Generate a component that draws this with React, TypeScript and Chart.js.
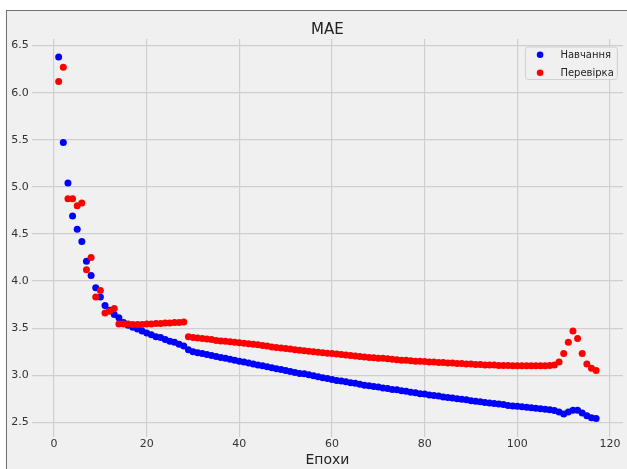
import React, { useEffect, useRef } from "react";
import { Chart, registerables } from "chart.js";

Chart.register(...registerables);

const chartTitle = "MAE";
const xAxisTitle = "Епохи";
const trainLabel = "Навчання";
const valLabel = "Перевірка";
const xTickValues = [0, 20, 40, 60, 80, 100, 120];
const yTickValues = [2.5, 3.0, 3.5, 4.0, 4.5, 5.0, 5.5, 6.0, 6.5];

const trainMae = [
  6.38, 5.47, 5.04, 4.69, 4.55, 4.42, 4.21, 4.06, 3.93, 3.83,
  3.74, 3.69, 3.645, 3.61, 3.56, 3.53, 3.51, 3.49, 3.47, 3.45,
  3.43, 3.41, 3.40, 3.38, 3.36, 3.35, 3.33, 3.31, 3.27, 3.25,
  3.24, 3.23, 3.22, 3.21, 3.20, 3.19, 3.18, 3.17, 3.16, 3.15,
  3.14, 3.13, 3.12, 3.11, 3.10, 3.09, 3.08, 3.07, 3.06, 3.05,
  3.04, 3.03, 3.02, 3.015, 3.005, 2.995, 2.985, 2.975, 2.965, 2.955,
  2.945, 2.94, 2.93, 2.92, 2.915, 2.905, 2.895, 2.89, 2.88, 2.875,
  2.865, 2.86, 2.85, 2.845, 2.835, 2.83, 2.82, 2.815, 2.805, 2.80,
  2.79, 2.785, 2.78, 2.77, 2.765, 2.76, 2.75, 2.745, 2.74, 2.73,
  2.725, 2.72, 2.71, 2.705, 2.70, 2.695, 2.69, 2.68, 2.675, 2.67,
  2.665, 2.66, 2.655, 2.65, 2.645, 2.64, 2.635, 2.625, 2.61, 2.59,
  2.61, 2.63, 2.63, 2.60, 2.57, 2.55, 2.54,
];

const valMae = [
  6.12, 6.27, 4.875, 4.875, 4.80, 4.83, 4.12, 4.25, 3.83, 3.90,
  3.66, 3.68, 3.71, 3.545, 3.545, 3.545, 3.54, 3.54, 3.54, 3.545,
  3.545, 3.55, 3.55, 3.555, 3.555, 3.56, 3.56, 3.565, 3.41, 3.40,
  3.395, 3.39, 3.385, 3.38, 3.37, 3.365, 3.36, 3.355, 3.35, 3.345,
  3.34, 3.335, 3.33, 3.325, 3.315, 3.31, 3.30, 3.295, 3.29, 3.285,
  3.28, 3.27, 3.265, 3.26, 3.255, 3.25, 3.245, 3.24, 3.235, 3.23,
  3.225, 3.22, 3.215, 3.21, 3.205, 3.20, 3.195, 3.19, 3.185, 3.18,
  3.18, 3.175, 3.17, 3.165, 3.16, 3.16, 3.155, 3.15, 3.15, 3.145,
  3.14, 3.14, 3.135, 3.135, 3.13, 3.13, 3.125, 3.125, 3.12, 3.12,
  3.115, 3.115, 3.11, 3.11, 3.11, 3.105, 3.105, 3.105, 3.10, 3.10,
  3.10, 3.10, 3.10, 3.10, 3.10, 3.10, 3.105, 3.11, 3.14, 3.23,
  3.35, 3.47, 3.39, 3.23, 3.12, 3.075, 3.05,
];

const FONT = "'DejaVu Sans', sans-serif";
const TEXT = "#333333";
const GRID = "#cfcfcf";

const boxLegend = {
  id: "boxLegend",
  afterDatasetsDraw(chart: any) {
    const { ctx, chartArea } = chart;
    const w = 92;
    const h = 32.5;
    const x0 = chartArea.right - 5.6 - w;
    const y0 = chartArea.top + 8;
    ctx.save();
    ctx.beginPath();
    if (ctx.roundRect) ctx.roundRect(x0, y0, w, h, 3);
    else ctx.rect(x0, y0, w, h);
    ctx.fillStyle = "rgba(240,240,240,0.85)";
    ctx.fill();
    ctx.lineWidth = 1;
    ctx.strokeStyle = "#d0d0d0";
    ctx.stroke();
    ctx.font = `10px ${FONT}`;
    ctx.textBaseline = "middle";
    ctx.textAlign = "left";
    chart.data.datasets.forEach((ds: any, i: number) => {
      const cy = y0 + 7.7 + i * 18;
      ctx.beginPath();
      ctx.arc(x0 + 14.7, cy, 3.3, 0, Math.PI * 2);
      ctx.fillStyle = ds.backgroundColor;
      ctx.fill();
      ctx.fillStyle = "#222222";
      ctx.fillText(ds.label, x0 + 35, cy + 0.5);
    });
    ctx.restore();
  },
};

export default function App() {
  const canvasRef = useRef<HTMLCanvasElement | null>(null);

  useEffect(() => {
    if (!canvasRef.current) return;
    const epochs = trainMae.map((_, i) => i + 1);
    const chart = new Chart(canvasRef.current, {
      type: "scatter",
      data: {
        datasets: [
          {
            label: trainLabel,
            data: epochs.map((e, i) => ({ x: e, y: trainMae[i] })),
            backgroundColor: "#0000ff",
            borderWidth: 0,
            pointRadius: 3.5,
            order: 1,
          },
          {
            label: valLabel,
            data: epochs.map((e, i) => ({ x: e, y: valMae[i] })),
            backgroundColor: "#ff0000",
            borderWidth: 0,
            pointRadius: 3.5,
            order: 0,
          },
        ],
      },
      options: {
        animation: false,
        responsive: false,
        devicePixelRatio: 1,
        layout: { padding: { left: 0, right: 3.4, top: 0, bottom: 0 } },
        plugins: {
          legend: { display: false },
          tooltip: { enabled: false },
          title: {
            display: true,
            text: chartTitle,
            fullSize: false,
            color: "#222222",
            font: { family: FONT, size: 15, weight: "normal" },
            padding: { top: 21, bottom: 0 },
          },
        },
        scales: {
          x: {
            type: "linear",
            min: -4.8,
            max: 122.8,
            afterBuildTicks: (scale: any) => {
              scale.ticks = xTickValues.map((v) => ({ value: v }));
            },
            afterFit: (scale: any) => {
              scale.height = 32.5;
            },
            ticks: {
              color: TEXT,
              font: { family: FONT, size: 11 },
              padding: 1.5,
              maxRotation: 0,
              callback: (v: any) => String(v),
            },
            grid: { color: GRID, lineWidth: 1.2, drawTicks: false },
            border: { display: false },
            title: {
              display: true,
              text: xAxisTitle,
              color: "#222222",
              font: { family: FONT, size: 14, lineHeight: 1.1 },
              padding: { top: 0.5, bottom: 0.6 },
            },
          },
          y: {
            type: "linear",
            min: 2.35,
            max: 6.57,
            afterBuildTicks: (scale: any) => {
              scale.ticks = yTickValues.map((v) => ({ value: v }));
            },
            afterFit: (scale: any) => {
              scale.width = 31.8;
            },
            ticks: {
              color: TEXT,
              font: { family: FONT, size: 11 },
              padding: 3,
              callback: (v: any) => Number(v).toFixed(1),
            },
            grid: { color: GRID, lineWidth: 1.2, drawTicks: false },
            border: { display: false },
          },
        },
      },
      plugins: [boxLegend],
    } as any);
    return () => chart.destroy();
  }, []);

  return (
    <div style={{ position: "relative", width: 627, height: 469, background: "#ffffff", overflow: "hidden" }}>
      <style>{"body{margin:0}"}</style>
      <div
        style={{
          position: "absolute",
          left: 6,
          top: 10,
          width: 621,
          height: 459,
          background: "#f0f0f0",
          borderTop: "1.5px solid #707070",
          borderLeft: "1.5px solid #707070",
          boxSizing: "border-box",
        }}
      />
      <canvas
        ref={canvasRef}
        width={627}
        height={469}
        style={{ position: "absolute", left: 0, top: 0, width: 627, height: 469 }}
      />
    </div>
  );
}
